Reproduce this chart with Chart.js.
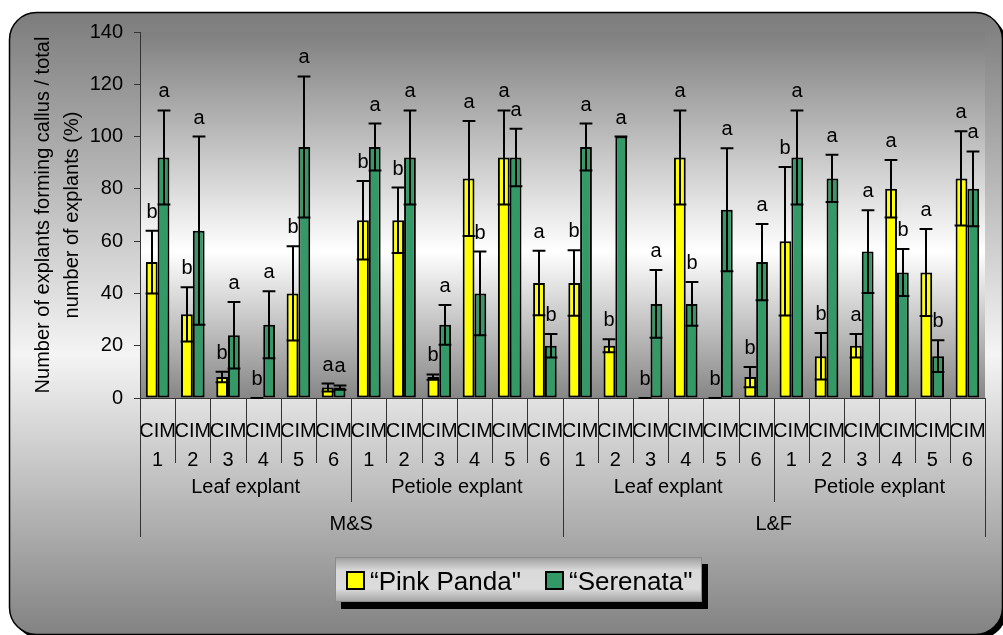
<!DOCTYPE html>
<html>
<head>
<meta charset="utf-8">
<title>Callus formation</title>
<script src="https://cdn.jsdelivr.net/npm/chart.js@4.4.1/dist/chart.umd.min.js"></script>
<style>
  html, body { margin: 0; padding: 0; background: #ffffff; }
  canvas { display: block; }
</style>
</head>
<body>
<canvas id="chart" width="1003" height="635"></canvas>
<script>
// ---- data -------------------------------------------------------------
const media = ['M&S', 'L&F'];
const explants = ['Leaf explant', 'Petiole explant'];
const cimLevels = ['1', '2', '3', '4', '5', '6'];

// % of explants forming callus, order: medium > explant > CIM 1..6
const pinkPanda    = [52, 32, 8, 0, 40, 4,   68, 68, 8, 84, 92, 44,   44, 20, 0, 92, 0, 8,   60, 16, 20, 80, 48, 84];
const pinkPandaErr = [12, 10.4, 2, 0, 18, 1.5,   15, 12.5, 1, 22, 18, 12.3,   12.5, 2.5, 0, 18, 0, 3.9,   28.4, 8.9, 4.5, 11, 16.6, 18];
const serenata     = [92, 64, 24, 28, 96, 4,   96, 92, 28, 40, 92, 20,   96, 100, 36, 36, 72, 52,   92, 84, 56, 48, 16, 80];
const serenataErr  = [18, 36, 12.7, 12.8, 27, 0.8,   9, 18, 7.6, 16, 11, 4.5,   9, 0, 13, 8.4, 23.5, 14.6,   18, 9, 15.8, 9, 6.1, 14.3];

// significance letters
const pinkPandaSig = ['b','b','b','b','b','a',  'b','b','b','a','a','a',  'b','b','b','a','b','b',  'b','b','a','a','a','a'];
const serenataSig  = ['a','a','a','a','a','a',  'a','a','a','b','a','b',  'a','a','a','b','a','a',  'a','a','a','b','b','a'];

const yTicks = [0, 20, 40, 60, 80, 100, 120, 140];

// ---- helpers ----------------------------------------------------------
const FONT = '"Liberation Sans", Arial, Helvetica, sans-serif';

const categories = [];
media.forEach(() => explants.forEach(() => cimLevels.forEach(n => categories.push(['CIM', n]))));

const errorsByDataset = [pinkPandaErr, serenataErr];
const valuesByDataset = [pinkPanda, serenata];
const lettersByDataset = [pinkPandaSig, serenataSig];

function roundRectPath(ctx, x, y, w, h, r) {
  ctx.beginPath();
  ctx.moveTo(x + r, y);
  ctx.lineTo(x + w - r, y);
  ctx.arcTo(x + w, y, x + w, y + r, r);
  ctx.lineTo(x + w, y + h - r);
  ctx.arcTo(x + w, y + h, x + w - r, y + h, r);
  ctx.lineTo(x + r, y + h);
  ctx.arcTo(x, y + h, x, y + h - r, r);
  ctx.lineTo(x, y + r);
  ctx.arcTo(x, y, x + r, y, r);
  ctx.closePath();
}

// Panel and plot-area shading, error bars, letters, grouped category axis, legend
const decorations = {
  id: 'decorations',
  beforeDraw(chart) {
    const { ctx, chartArea: a } = chart;
    ctx.save();
    const px = 9.5, py = 12.5, pw = 993, ph = 622, pr = 27;
    // drop shadow
    roundRectPath(ctx, px + 4, py + 4, pw, ph, pr);
    ctx.fillStyle = '#000000';
    ctx.fill();
    // panel
    const g = ctx.createLinearGradient(0, py, 0, py + ph);
    g.addColorStop(0, '#7c7c7c');
    g.addColorStop(0.55, '#f4f4f4');
    g.addColorStop(1, '#828282');
    roundRectPath(ctx, px, py, pw, ph, pr);
    ctx.fillStyle = g;
    ctx.fill();
    ctx.lineWidth = 1.5;
    ctx.strokeStyle = '#000000';
    ctx.stroke();
    // plot area
    const pg = ctx.createLinearGradient(0, a.top, 0, a.bottom);
    pg.addColorStop(0, '#7f7f7f');
    pg.addColorStop(0.6, '#ffffff');
    pg.addColorStop(1, '#868686');
    ctx.fillStyle = pg;
    ctx.fillRect(a.left, a.top, a.right - a.left, a.bottom - a.top);
    ctx.restore();
  },
  afterDatasetsDraw(chart) {
    const { ctx } = chart;
    const y = chart.scales.y;
    ctx.save();
    ctx.strokeStyle = '#000000';
    ctx.lineWidth = 2;
    ctx.fillStyle = '#000000';
    ctx.font = '20px ' + FONT;
    ctx.textAlign = 'center';
    ctx.textBaseline = 'alphabetic';
    chart.data.datasets.forEach((ds, d) => {
      const meta = chart.getDatasetMeta(d);
      const vals = valuesByDataset[d], errs = errorsByDataset[d], sig = lettersByDataset[d];
      meta.data.forEach((bar, i) => {
        const v = vals[i], e = errs[i];
        const cx = Math.round(bar.x);
        const half = bar.width / 2 + 0.5;
        const yTop = y.getPixelForValue(v + e);
        const yBot = y.getPixelForValue(Math.max(v - e, 0));
        ctx.beginPath();
        ctx.moveTo(cx, yBot);
        ctx.lineTo(cx, yTop);
        ctx.moveTo(cx - half, yTop);
        ctx.lineTo(cx + half, yTop);
        ctx.moveTo(cx - half, yBot);
        ctx.lineTo(cx + half, yBot);
        ctx.stroke();
        ctx.fillText(sig[i], cx, yTop - 13);
      });
    });
    ctx.restore();
  },
  afterDraw(chart) {
    const { ctx, chartArea: a } = chart;
    const x = chart.scales.x;
    const n = chart.data.labels.length;
    const step = (x.getPixelForValue(1) - x.getPixelForValue(0));
    const edge = i => x.getPixelForValue(0) - step / 2 + i * step;
    const perExplant = cimLevels.length;
    const perMedium = perExplant * explants.length;

    ctx.save();
    ctx.strokeStyle = '#333333';
    ctx.lineWidth = 1;
    for (let i = 0; i <= n; i++) {
      let len = 65;
      if (i % perMedium === 0) len = 139;
      else if (i % perExplant === 0) len = 104;
      const px = Math.round(edge(i)) + 0.5;
      ctx.beginPath();
      ctx.moveTo(px, a.bottom);
      ctx.lineTo(px, a.bottom + len);
      ctx.stroke();
    }
    ctx.fillStyle = '#000000';
    ctx.font = '20px ' + FONT;
    ctx.textAlign = 'center';
    ctx.textBaseline = 'middle';
    media.forEach((m, mi) => {
      explants.forEach((ex, ei) => {
        const s = mi * perMedium + ei * perExplant;
        ctx.fillText(ex, (edge(s) + edge(s + perExplant)) / 2, a.bottom + 89);
      });
      const s = mi * perMedium;
      ctx.fillText(m, (edge(s) + edge(s + perMedium)) / 2, a.bottom + 126);
    });

    // legend
    const lx = 335, ly = 557, lw = 367, lh = 45;
    ctx.fillStyle = '#000000';
    ctx.fillRect(lx + 6, ly + 7, lw, lh);
    const lg = ctx.createLinearGradient(0, ly, 0, ly + lh);
    lg.addColorStop(0, '#9c9c9c');
    lg.addColorStop(0.3, '#d9d9d9');
    lg.addColorStop(0.7, '#dcdcdc');
    lg.addColorStop(1, '#a2a2a2');
    ctx.fillStyle = lg;
    ctx.fillRect(lx, ly, lw, lh);
    ctx.strokeStyle = '#8c8c8c';
    ctx.lineWidth = 1;
    ctx.strokeRect(lx + 0.5, ly + 0.5, lw - 1, lh - 1);

    ctx.font = '26px ' + FONT;
    ctx.textAlign = 'left';
    ctx.textBaseline = 'alphabetic';
    const itemX = [347, 546];
    chart.data.datasets.forEach((ds, d) => {
      const sx = itemX[d];
      ctx.fillStyle = ds.backgroundColor;
      ctx.fillRect(sx, 572, 17, 17);
      ctx.lineWidth = 2;
      ctx.strokeStyle = '#000000';
      ctx.strokeRect(sx, 572, 17, 17);
      ctx.fillStyle = '#000000';
      ctx.fillText(ds.label, sx + 23, 590);
    });
    ctx.restore();
  }
};

new Chart(document.getElementById('chart'), {
  type: 'bar',
  data: {
    labels: categories,
    datasets: [
      {
        label: '\u201CPink Panda"',
        data: pinkPanda,
        backgroundColor: '#ffff00',
        borderColor: '#000000',
        borderWidth: 2,
        borderSkipped: false,
        categoryPercentage: 0.67,
        barPercentage: 1.0
      },
      {
        label: '\u201CSerenata"',
        data: serenata,
        backgroundColor: '#339966',
        borderColor: '#000000',
        borderWidth: 2,
        borderSkipped: false,
        categoryPercentage: 0.67,
        barPercentage: 1.0
      }
    ]
  },
  options: {
    responsive: false,
    animation: false,
    devicePixelRatio: 1,
    layout: { padding: { left: 0, right: 18, top: 32, bottom: 0 } },
    plugins: {
      legend: { display: false },
      tooltip: { enabled: false }
    },
    scales: {
      x: {
        grid: { display: false },
        border: { display: true, color: '#333333', width: 1 },
        ticks: {
          autoSkip: false,
          maxRotation: 0,
          minRotation: 0,
          padding: 10.5,
          color: '#000000',
          font: { family: FONT, size: 20, lineHeight: 1.45 }
        },
        afterFit(scale) { scale.height = 237; }
      },
      y: {
        min: 0,
        max: 140,
        afterBuildTicks(scale) { scale.ticks = yTicks.map(v => ({ value: v })); },
        grid: { drawOnChartArea: false, drawTicks: true, tickLength: 6, color: '#333333' },
        border: { display: true, color: '#333333', width: 1 },
        ticks: {
          padding: 11,
          color: '#000000',
          font: { family: FONT, size: 20 }
        },
        title: {
          display: true,
          text: ['Number of explants forming callus / total', 'number of explants (%)'],
          color: '#000000',
          font: { family: FONT, size: 20, lineHeight: 1.45 },
          padding: { top: 28.5, bottom: 0 }
        },
        afterFit(scale) { scale.width = 140; }
      }
    }
  },
  plugins: [decorations]
});
</script>
</body>
</html>
